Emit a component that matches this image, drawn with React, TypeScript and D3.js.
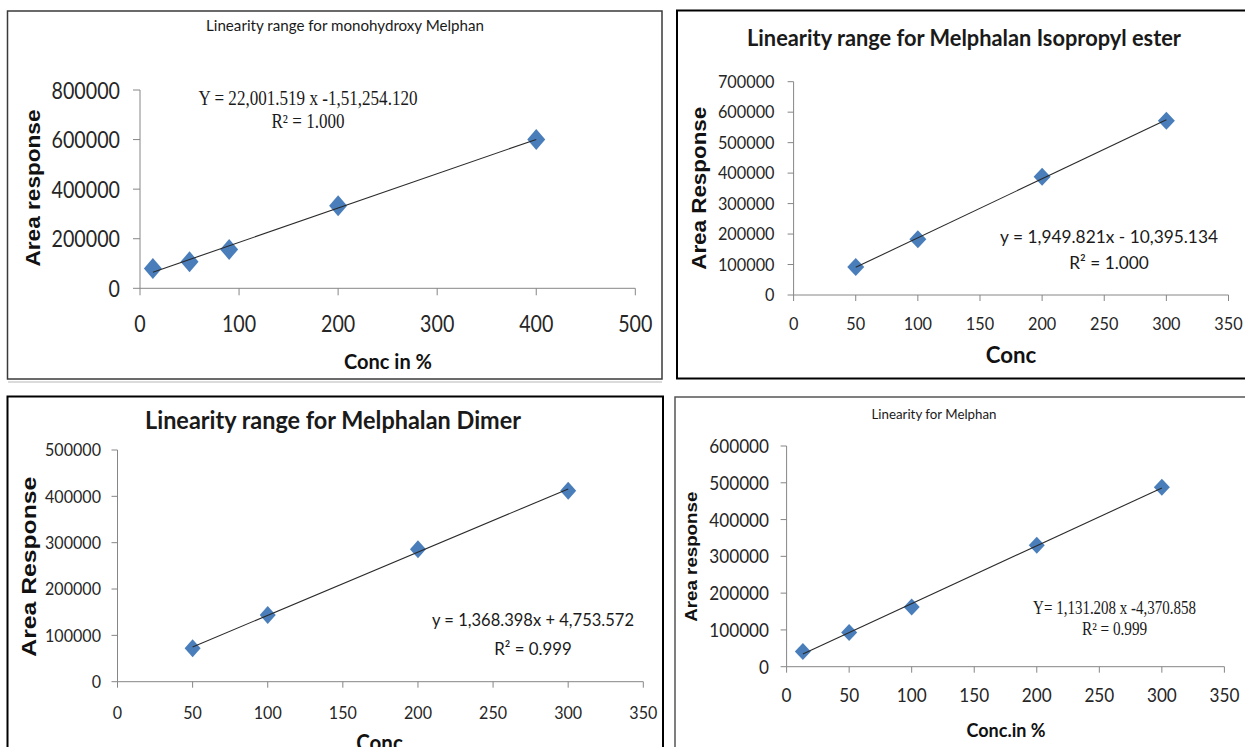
import React from "react";
import * as d3 from "d3";

// ---------- data ----------
const p1Conc = [13, 50, 90, 200, 400];
const p1Area = [80000, 107000, 157000, 333000, 600000];
const p1XTicks = [0, 100, 200, 300, 400, 500];
const p1YTicks = [0, 200000, 400000, 600000, 800000];
const p1Title = "Linearity range for monohydroxy Melphan";
const p1Eq = "Y = 22,001.519 x -1,51,254.120";
const p1R2 = "R² = 1.000";

const p2Conc = [50, 100, 200, 300];
const p2Area = [92000, 183000, 388000, 572000];
const p2XTicks = [0, 50, 100, 150, 200, 250, 300, 350];
const p2YTicks = [0, 100000, 200000, 300000, 400000, 500000, 600000, 700000];
const p2Title = "Linearity range for Melphalan Isopropyl ester";
const p2Eq = "y = 1,949.821x - 10,395.134";
const p2R2 = "R² = 1.000";

const p3Conc = [50, 100, 200, 300];
const p3Area = [72000, 144000, 286000, 412000];
const p3XTicks = [0, 50, 100, 150, 200, 250, 300, 350];
const p3YTicks = [0, 100000, 200000, 300000, 400000, 500000];
const p3Title = "Linearity range for Melphalan Dimer";
const p3Eq = "y = 1,368.398x + 4,753.572";
const p3R2 = "R² = 0.999";

const p4Conc = [13, 50, 100, 200, 300];
const p4Area = [41000, 93000, 162000, 330000, 488000];
const p4XTicks = [0, 50, 100, 150, 200, 250, 300, 350];
const p4YTicks = [0, 100000, 200000, 300000, 400000, 500000, 600000];
const p4Title = "Linearity for Melphan";
const p4Eq = "Y= 1,131.208 x -4,370.858";
const p4R2 = "R² = 0.999";

const SANS = "Lato, 'Open Sans', sans-serif";
const ARIAL = "'Liberation Sans', Arial, sans-serif";
const SERIF = "'Liberation Serif', 'Times New Roman', serif";
const BLUE = "#4a7ebb";
const AXIS = "#868686";

type TP = {
  x: number; y: number; children: React.ReactNode; size: number; family?: string;
  weight?: string | number; anchor?: string; sx?: number; rotate?: number; width?: number; fill?: string; dy?: string;
};
function T({ x, y, children, size, family = SANS, weight = "normal", anchor = "middle", sx = 1, rotate = 0, width, fill = "#262626", dy }: TP) {
  return (
    <text
      transform={`translate(${x},${y}) rotate(${rotate}) scale(${sx},1)`}
      fontSize={size}
      fontFamily={family}
      fontWeight={weight}
      textAnchor={anchor}
      fill={fill}
      dy={dy}
      textLength={width}
      lengthAdjust={width ? "spacingAndGlyphs" : undefined}
    >
      {children}
    </text>
  );
}

function fit(xs: number[], ys: number[]) {
  const mx = d3.mean(xs)!, my = d3.mean(ys)!;
  let sxy = 0, sxx = 0;
  xs.forEach((x, i) => { sxy += (x - mx) * (ys[i] - my); sxx += (x - mx) * (x - mx); });
  const b = sxy / sxx;
  return { b, a: my - b * mx };
}

type PanelCfg = {
  conc: number[]; area: number[]; xTicks: number[]; yTicks: number[];
  xRange: [number, number]; yRange: [number, number];
  tickSize: number; tickSx: number; yLabelRight: number; xLabelY: number; tickLen: number;
  mw: number; mh: number;
  border: { x: number; y: number; w: number; h: number; stroke: string; sw: number };
  title: string; titleX: number; titleY: number; titleSize: number; titleW: number; titleWeight: string | number;
  yTitle: string; yTitleX: number; yTitleY: number; yTitleSize: number; yTitleW: number;
  xTitle: string; xTitleX: number; xTitleY: number; xTitleSize: number; xTitleW: number;
  eq: string; r2: string; eqX: number; eqY: number; r2Y: number; eqSize: number; eqW: number; r2W: number; eqFamily: string;
};

function Panel(c: PanelCfg) {
  const x = d3.scaleLinear().domain([c.xTicks[0], c.xTicks[c.xTicks.length - 1]]).range(c.xRange);
  const y = d3.scaleLinear().domain([c.yTicks[0], c.yTicks[c.yTicks.length - 1]]).range(c.yRange);
  const { a, b } = fit(c.conc, c.area);
  const [x0, x1] = d3.extent(c.conc) as [number, number];
  const line = d3.line<number>().x((v) => x(v)).y((v) => y(a + b * v));
  const diamond = (px: number, py: number) =>
    `M${px},${py - c.mh}L${px + c.mw},${py}L${px},${py + c.mh}L${px - c.mw},${py}Z`;
  const bd = c.border;
  return (
    <g>
      <rect x={bd.x} y={bd.y} width={bd.w} height={bd.h} fill="#fff" stroke={bd.stroke} strokeWidth={bd.sw} />
      <line x1={x.range()[0]} x2={x.range()[0]} y1={y.range()[0]} y2={y.range()[1]} stroke={AXIS} strokeWidth={1} />
      <line x1={x.range()[0]} x2={x.range()[1]} y1={y.range()[0]} y2={y.range()[0]} stroke={AXIS} strokeWidth={1} />
      {c.yTicks.map((t) => (
        <g key={"y" + t}>
          <line x1={x.range()[0] - c.tickLen} x2={x.range()[0]} y1={y(t)} y2={y(t)} stroke={AXIS} />
          <T x={c.yLabelRight} y={y(t)} dy="0.36em" size={c.tickSize} sx={c.tickSx} anchor="end">{t}</T>
        </g>
      ))}
      {c.xTicks.map((t) => (
        <g key={"x" + t}>
          <line x1={x(t)} x2={x(t)} y1={y.range()[0]} y2={y.range()[0] + c.tickLen} stroke={AXIS} />
          <T x={x(t)} y={c.xLabelY} dy="0.36em" size={c.tickSize} sx={c.tickSx}>{t}</T>
        </g>
      ))}
      {c.conc.map((v, i) => (
        <path key={"m" + i} d={diamond(x(v), y(c.area[i]))} fill={BLUE} />
      ))}
      <path d={line([x0, x1]) || ""} stroke="#2a2a2a" strokeWidth={1.1} fill="none" />
      <T x={c.titleX} y={c.titleY} size={c.titleSize} weight={c.titleWeight} width={c.titleW} fill="#1a1a1a">{c.title}</T>
      <T x={c.yTitleX} y={c.yTitleY} size={c.yTitleSize} family={ARIAL} weight="bold" rotate={-90} width={c.yTitleW} fill="#111">{c.yTitle}</T>
      <T x={c.xTitleX} y={c.xTitleY} size={c.xTitleSize} weight="bold" width={c.xTitleW} fill="#111">{c.xTitle}</T>
      <T x={c.eqX} y={c.eqY} size={c.eqSize} family={c.eqFamily} width={c.eqW} fill="#1a1a1a">{c.eq}</T>
      <T x={c.eqX} y={c.r2Y} size={c.eqSize} family={c.eqFamily} width={c.r2W} fill="#1a1a1a">{c.r2}</T>
    </g>
  );
}

const panels: PanelCfg[] = [
  {
    conc: p1Conc, area: p1Area, xTicks: p1XTicks, yTicks: p1YTicks,
    xRange: [140, 635.3], yRange: [288.3, 90],
    tickSize: 24, tickSx: 0.82, yLabelRight: 120, xLabelY: 323.3, tickLen: 7, mw: 9, mh: 10.5,
    border: { x: 7.5, y: 11, w: 654.5, h: 368, stroke: "#3a3a3a", sw: 1.5 },
    title: p1Title, titleX: 345, titleY: 31, titleSize: 15, titleW: 278, titleWeight: "normal",
    yTitle: "Area response", yTitleX: 39.5, yTitleY: 188, yTitleSize: 20, yTitleW: 157,
    xTitle: "Conc in %", xTitleX: 388, xTitleY: 369, xTitleSize: 20, xTitleW: 88,
    eq: p1Eq, r2: p1R2, eqX: 308, eqY: 105, r2Y: 128, eqSize: 20, eqW: 219, r2W: 73, eqFamily: SERIF,
  },
  {
    conc: p2Conc, area: p2Area, xTicks: p2XTicks, yTicks: p2YTicks,
    xRange: [793.6, 1228.5], yRange: [295, 81.7],
    tickSize: 17.5, tickSx: 0.93, yLabelRight: 774.5, xLabelY: 324, tickLen: 6, mw: 8.5, mh: 9,
    border: { x: 677, y: 10.5, w: 600, h: 368, stroke: "#000", sw: 2 },
    title: p2Title, titleX: 964, titleY: 46, titleSize: 22, titleW: 434, titleWeight: "bold",
    yTitle: "Area Response", yTitleX: 706, yTitleY: 188.3, yTitleSize: 21, yTitleW: 163,
    xTitle: "Conc", xTitleX: 1011, xTitleY: 363, xTitleSize: 22, xTitleW: 50.6,
    eq: p2Eq, r2: p2R2, eqX: 1109, eqY: 242.5, r2Y: 269, eqSize: 18, eqW: 218, r2W: 79.6, eqFamily: SANS,
  },
  {
    conc: p3Conc, area: p3Area, xTicks: p3XTicks, yTicks: p3YTicks,
    xRange: [117.5, 643.3], yRange: [681.7, 450],
    tickSize: 17.5, tickSx: 0.92, yLabelRight: 101, xLabelY: 712.5, tickLen: 6, mw: 8, mh: 9,
    border: { x: 7.5, y: 396.5, w: 655.5, h: 400, stroke: "#000", sw: 2 },
    title: p3Title, titleX: 333, titleY: 429, titleSize: 25, titleW: 376, titleWeight: "bold",
    yTitle: "Area  Response", yTitleX: 35.5, yTitleY: 566.7, yTitleSize: 21, yTitleW: 180,
    xTitle: "Conc", xTitleX: 379.5, xTitleY: 751, xTitleSize: 22, xTitleW: 46.6,
    eq: p3Eq, r2: p3R2, eqX: 533, eqY: 626, r2Y: 655, eqSize: 18, eqW: 202, r2W: 77.6, eqFamily: SANS,
  },
  {
    conc: p4Conc, area: p4Area, xTicks: p4XTicks, yTicks: p4YTicks,
    xRange: [786.6, 1224.4], yRange: [666.7, 446],
    tickSize: 19.5, tickSx: 0.88, yLabelRight: 769, xLabelY: 695, tickLen: 6, mw: 8, mh: 8.5,
    border: { x: 675, y: 397, w: 600, h: 400, stroke: "#555", sw: 1.5 },
    title: p4Title, titleX: 934, titleY: 419, titleSize: 13, titleW: 125, titleWeight: "normal",
    yTitle: "Area response", yTitleX: 696.5, yTitleY: 556.7, yTitleSize: 17, yTitleW: 130,
    xTitle: "Conc.in %", xTitleX: 1006, xTitleY: 736.5, xTitleSize: 18, xTitleW: 79,
    eq: p4Eq, r2: p4R2, eqX: 1114.6, eqY: 614, r2Y: 635, eqSize: 18, eqW: 163, r2W: 65.3, eqFamily: SERIF,
  },
];

export default function App() {
  return (
    <svg
      width={1245}
      height={747}
      viewBox="0 0 1245 747"
      style={{ position: "absolute", left: 0, top: 0, background: "#fff" }}
    >
      <rect x={0} y={0} width={1245} height={747} fill="#fff" />
      <line x1={8} x2={662} y1={382} y2={382} stroke="#cfcfcf" strokeWidth={1.5} />
      {panels.map((p, i) => (
        <Panel key={i} {...p} />
      ))}
    </svg>
  );
}
